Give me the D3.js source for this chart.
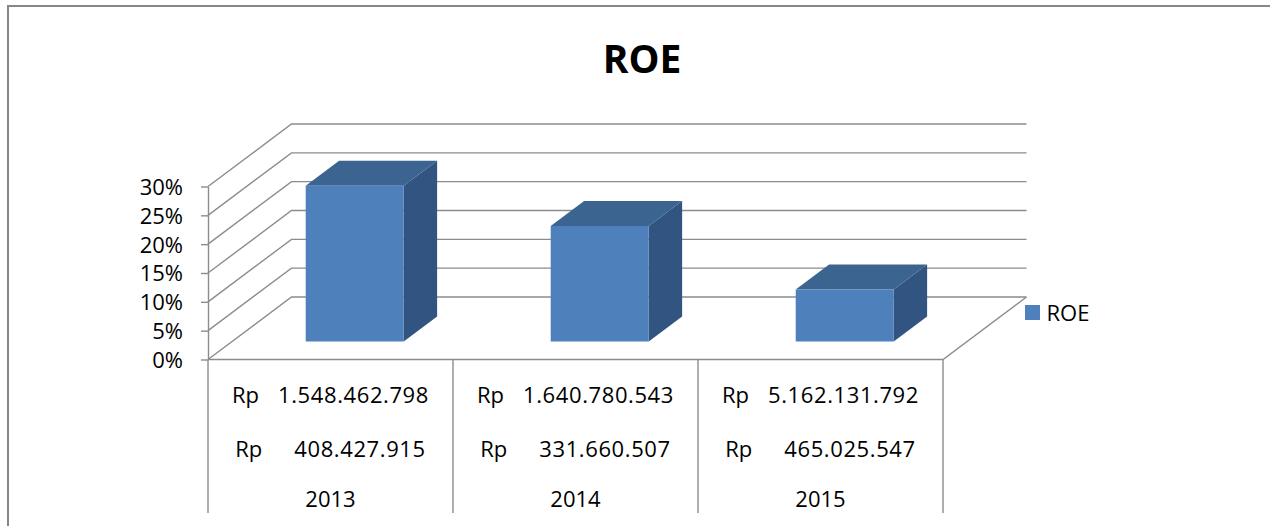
<!DOCTYPE html>
<html>
<head>
<meta charset="utf-8">
<script src="https://cdn.jsdelivr.net/npm/d3@7"></script>
<style>
  body { margin: 0; background: #fff; }
  svg { display: block; }
</style>
</head>
<body>
<script>
// chart data
var years = ["2013", "2014", "2015"];
var roe = [0.27, 0.20, 0.09];
var equityRow = ["1.548.462.798", "1.640.780.543", "5.162.131.792"];
var incomeRow = ["408.427.915", "331.660.507", "465.025.547"];
var yTicks = [0, 0.05, 0.10, 0.15, 0.20, 0.25, 0.30];
var seriesName = "ROE";

var W = 1270, H = 526;
var gridColor = "#8c8c8c";
var font = "'Open Sans', 'Noto Sans', sans-serif";

// oblique depth of the floor (full depth)
var DX = 83.5, DY = -62.5;
// bars sit between these depth fractions
var D0 = 0.29, D1 = 0.69;

var svg = d3.select("body").append("svg")
  .attr("width", W)
  .attr("height", H);

// outer chart border
svg.append("rect")
  .attr("x", 8).attr("y", 6)
  .attr("width", W + 40).attr("height", H + 40)
  .attr("fill", "none")
  .attr("stroke", "#878787")
  .attr("stroke-width", 2);

// title
svg.append("text")
  .attr("x", 642).attr("y", 72.5)
  .attr("text-anchor", "middle")
  .attr("font-family", font)
  .attr("font-weight", "bold")
  .attr("font-size", 39)
  .text(seriesName);

var xScale = d3.scaleBand().domain(years).range([208, 943]).padding(0);
var yScale = d3.scaleLinear().domain([0, 0.3]).range([359.5, 186.5]);
var x0 = xScale.range()[0], x1 = xScale.range()[1];

function proj(x, v, d) {
  return [x + d * DX, yScale(v) + d * DY];
}

var walls = svg.append("g")
  .attr("fill", "none")
  .attr("stroke", gridColor)
  .attr("stroke-width", 1.4);

// back wall gridlines + side wall diagonals
yTicks.forEach(function(t) {
  var a = proj(x0, t, 0), b = proj(x0, t, 1), c = proj(x1, t, 1);
  walls.append("polyline")
    .attr("points", [a, b, c].map(function(p) { return p.join(","); }).join(" "));
});

// floor front and right edges
var f1 = proj(x0, 0, 0), f2 = proj(x1, 0, 0), f3 = proj(x1, 0, 1);
walls.append("polyline")
  .attr("points", [f1, f2, f3].map(function(p) { return p.join(","); }).join(" "));

// y axis
var yAxis = d3.axisLeft(yScale)
  .tickValues(yTicks)
  .tickFormat(d3.format(".0%"))
  .tickSize(7)
  .tickSizeOuter(0)
  .tickPadding(18);

var axisG = svg.append("g")
  .attr("transform", "translate(" + x0 + ",0)")
  .call(yAxis);
axisG.selectAll("path, line")
  .attr("stroke", gridColor)
  .attr("stroke-width", 1.4);
axisG.selectAll("text")
  .attr("font-family", font)
  .attr("font-size", 22)
  .attr("fill", "#000")
  .attr("dy", "0.36em");

// 3d bars
var bw = xScale.bandwidth() * 0.4;
var bars = svg.append("g").selectAll("g")
  .data(years.map(function(y, i) { return {year: y, v: roe[i]}; }))
  .join("g");

function poly(pts) {
  return pts.map(function(p) { return p.join(","); }).join(" ");
}

bars.each(function(d) {
  var g = d3.select(this);
  var xl = xScale(d.year) + (xScale.bandwidth() - bw) / 2;
  var xr = xl + bw;
  // front face
  var fbl = proj(xl, 0, D0), fbr = proj(xr, 0, D0),
      ftl = proj(xl, d.v, D0), ftr = proj(xr, d.v, D0);
  var bbr = proj(xr, 0, D1), btl = proj(xl, d.v, D1), btr = proj(xr, d.v, D1);
  g.append("polygon")
    .attr("points", poly([ftr, btr, bbr, fbr]))
    .attr("fill", "#325480");
  g.append("polygon")
    .attr("points", poly([ftl, btl, btr, ftr]))
    .attr("fill", "#3c6490");
  g.append("polygon")
    .attr("points", poly([ftl, ftr, fbr, fbl]))
    .attr("fill", "#4e80bc");
});

// data table below the floor
var tbl = svg.append("g");
xScale.domain().concat(["end"]).forEach(function(y, i) {
  var x = x0 + i * xScale.step();
  tbl.append("line")
    .attr("x1", x).attr("x2", x)
    .attr("y1", 360).attr("y2", 513)
    .attr("stroke", gridColor)
    .attr("stroke-width", 1.4);
});

var rows = [
  {vals: equityRow, y: 403, gap: 19},
  {vals: incomeRow, y: 456.5, gap: 32}
];

rows.forEach(function(r) {
  years.forEach(function(yr, i) {
    var t = tbl.append("text")
      .attr("x", xScale(yr) + xScale.bandwidth() / 2)
      .attr("y", r.y)
      .attr("text-anchor", "middle")
      .attr("font-family", font)
      .attr("font-size", 22)
      .attr("fill", "#000");
    t.append("tspan").text("Rp");
    t.append("tspan")
      .attr("dx", r.gap)
      .attr("letter-spacing", 0.6)
      .text(r.vals[i]);
  });
});

tbl.selectAll(".yr")
  .data(years)
  .join("text")
  .attr("class", "yr")
  .attr("x", function(d) { return xScale(d) + xScale.bandwidth() / 2; })
  .attr("y", 506.5)
  .attr("text-anchor", "middle")
  .attr("font-family", font)
  .attr("font-size", 22)
  .attr("fill", "#000")
  .text(function(d) { return d; });

// legend
var leg = svg.append("g");
leg.append("rect")
  .attr("x", 1025).attr("y", 305)
  .attr("width", 15).attr("height", 15)
  .attr("fill", "#4e80bc");
leg.append("text")
  .attr("x", 1046.5).attr("y", 320.5)
  .attr("font-family", font)
  .attr("font-size", 22)
  .attr("fill", "#000")
  .text(seriesName);
</script>
</body>
</html>
